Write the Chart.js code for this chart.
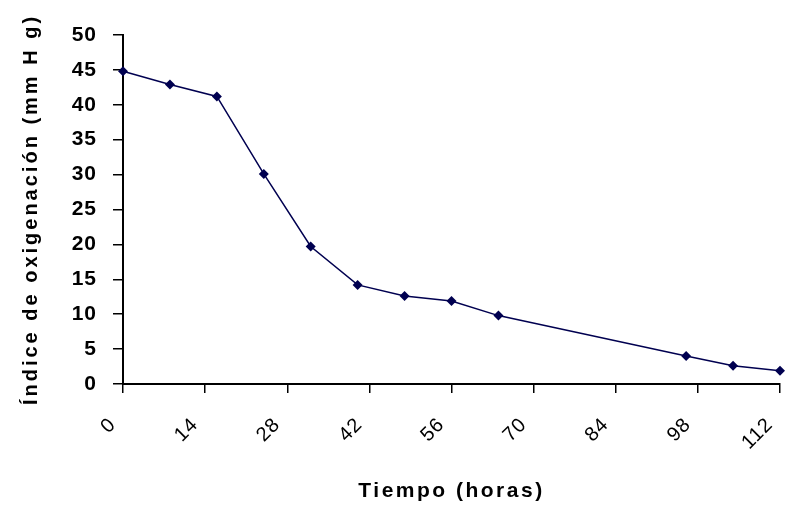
<!DOCTYPE html>
<html lang="es">
<head>
    <meta charset="UTF-8">
    <title>Índice de oxigenación</title>
    <script src="https://cdn.jsdelivr.net/npm/chart.js"></script>
    <style>
        html, body { margin: 0; padding: 0; background: #fff; }
        #wrap { width: 785px; height: 510px; }
    </style>
</head>
<body>
    <div id="wrap"><canvas id="chart"></canvas></div>

    <script>
        // horas y valores
        const horas = [0, 8, 16, 24, 32, 40, 48, 56, 64, 96, 104, 112];
        const indice = [44.8, 42.9, 41.2, 30.1, 19.7, 14.2, 12.6, 11.9, 9.8, 4.0, 2.6, 1.9];
        const xTicks = [0, 14, 28, 42, 56, 70, 84, 98, 112];
        const yMax = 50;
        const yStep = 5;

        const navy = '#000050';
        const fontFamily = '"Liberation Sans", Arial, sans-serif';

        // el grafico original tiene texto algo mas ancho: un poco de espaciado
        const spacing = {
            id: 'spacing',
            beforeDraw(chart) {
                chart.ctx.letterSpacing = '1px';
            },
            afterLayout(chart) {
                Object.values(chart.scales).forEach(s => {
                    if (s._spaced) return;
                    const orig = s.drawTitle.bind(s);
                    s.drawTitle = function () {
                        const c = this.ctx;
                        const prev = c.letterSpacing;
                        c.letterSpacing = this.axis === 'y' ? '3px' : '2.5px';
                        orig();
                        c.letterSpacing = prev;
                    };
                    s._spaced = true;
                });
            }
        };

        new Chart(document.getElementById('chart'), {
            type: 'line',
            data: {
                datasets: [{
                    data: horas.map((h, i) => ({ x: h, y: indice[i] })),
                    borderColor: navy,
                    borderWidth: 1.5,
                    backgroundColor: navy,
                    pointStyle: 'rectRot',
                    pointRadius: 5,
                    pointBorderWidth: 0,
                    fill: false,
                    tension: 0,
                    clip: false
                }]
            },
            options: {
                responsive: true,
                maintainAspectRatio: false,
                animation: false,
                layout: { padding: { left: 0, right: 2, top: 35, bottom: 4 } },
                plugins: {
                    legend: { display: false },
                    tooltip: { enabled: false }
                },
                scales: {
                    x: {
                        type: 'linear',
                        min: 0,
                        max: xTicks[xTicks.length - 1],
                        afterBuildTicks: s => { s.ticks = xTicks.map(v => ({ value: v })); },
                        afterFit: s => {
                            s.height = 122;
                            s.paddingLeft = 0;
                            s.paddingRight = 0;
                        },
                        grid: {
                            display: true,
                            drawOnChartArea: false,
                            drawTicks: true,
                            tickLength: 9,
                            color: '#000',
                            lineWidth: 1.5
                        },
                        border: { color: '#000', width: 2 },
                        ticks: {
                            color: '#000',
                            minRotation: 45,
                            maxRotation: 45,
                            padding: 20,
                            labelOffset: -10,
                            font: { family: fontFamily, size: 20 }
                        },
                        title: {
                            display: true,
                            text: 'Tiempo (horas)',
                            color: '#000',
                            font: { family: fontFamily, size: 21, weight: 'bold' },
                            padding: { top: 0, bottom: 2 }
                        }
                    },
                    y: {
                        min: 0,
                        max: yMax,
                        afterFit: s => {
                            s.width = 123;
                            s.paddingTop = 0;
                            s.paddingBottom = 0;
                        },
                        grid: {
                            display: true,
                            drawOnChartArea: false,
                            drawTicks: true,
                            tickLength: 10,
                            color: '#000',
                            lineWidth: 1.5
                        },
                        border: { color: '#000', width: 2 },
                        ticks: {
                            stepSize: yStep,
                            color: '#000',
                            padding: 16,
                            font: { family: fontFamily, size: 21, weight: 'bold' }
                        },
                        title: {
                            display: true,
                            text: 'Índice de oxigenación (mm H g)',
                            color: '#000',
                            font: { family: fontFamily, size: 20, weight: 'bold' },
                            padding: { top: 19, bottom: 0 }
                        }
                    }
                }
            },
            plugins: [spacing]
        });
    </script>
</body>
</html>
